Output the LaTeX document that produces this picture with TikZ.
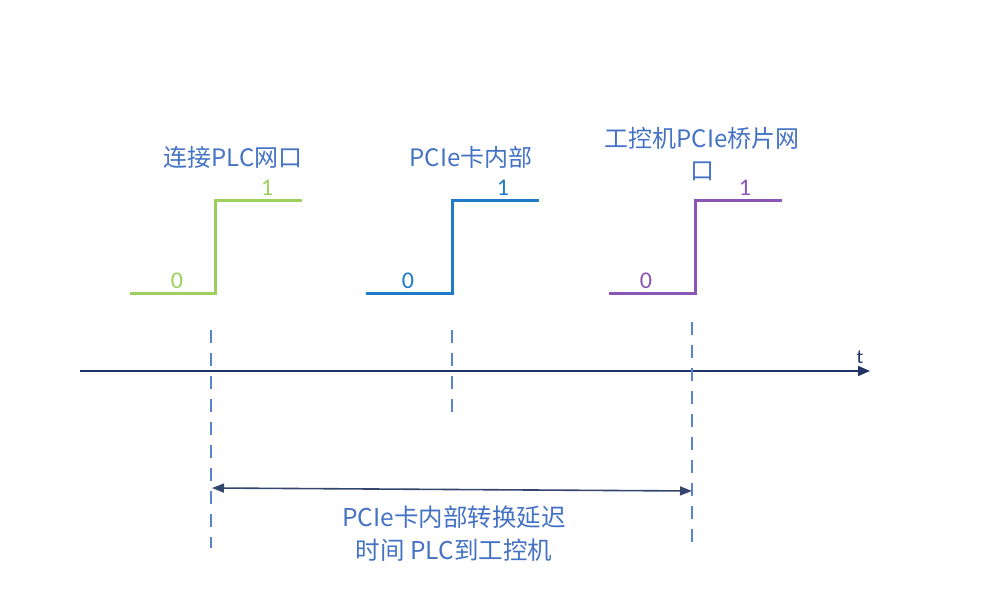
\documentclass[tikz,border=0pt]{standalone}
\usepackage{fontspec}
\setmainfont{Carlito}
\newfontfamily\cjk{Noto Sans CJK SC}
\usetikzlibrary{arrows.meta}
\definecolor{txtblue}{HTML}{4472C4}
\definecolor{sgreen}{HTML}{9BD05F}
\definecolor{sblue}{HTML}{1F7BC6}
\definecolor{spurple}{HTML}{8A55B5}
\definecolor{navy}{HTML}{1F3366}
\definecolor{dashblue}{HTML}{5B84CF}
\definecolor{arrnavy}{HTML}{34466F}
\tikzset{
  lbl/.style={text=txtblue, font=\cjk\fontsize{24}{32}\selectfont, inner sep=0pt, align=center},
  digit/.style={font=\fontsize{24}{26}\selectfont, inner sep=0pt},
  stepline/.style={line width=3pt, line join=miter},
  guide/.style={dashblue, line width=1.8pt, dash pattern=on 13pt off 10pt},
}
\begin{document}
\begin{tikzpicture}[x=1pt,y=-1pt]
\useasboundingbox (0,0) rectangle (984,596);
% green step
\coordinate (g0) at (130,293); \coordinate (g1) at (215,293);
\coordinate (g2) at (215,200); \coordinate (g3) at (302,200);
\draw[stepline, sgreen] (g0) -- (g1) -- (g2) -- (g3);
\node[digit, text=sgreen] (g0l) at (177,281) {0};
\node[digit, text=sgreen] (g1l) at (267,188) {1};
\node[lbl] (gl) at (233,157) {连接PLC网口};
% blue step
\coordinate (b0) at (366,293); \coordinate (b1) at (452,293);
\coordinate (b2) at (452,200); \coordinate (b3) at (539,200);
\draw[stepline, sblue] (b0) -- (b1) -- (b2) -- (b3);
\node[digit, text=sblue] (b0l) at (408,281) {0};
\node[digit, text=sblue] (b1l) at (503,188) {1};
\node[lbl] (bl) at (471,157) {PCIe卡内部};
% purple step
\coordinate (p0) at (609,293); \coordinate (p1) at (695,293);
\coordinate (p2) at (695,200); \coordinate (p3) at (782,200);
\draw[stepline, spurple] (p0) -- (p1) -- (p2) -- (p3);
\node[digit, text=spurple] (p0l) at (646,281) {0};
\node[digit, text=spurple] (p1l) at (745,188) {1};
\node[lbl] (pl) at (702,154) {工控机PCIe桥片网\\口};
% time axis
\coordinate (a0) at (80,371); \coordinate (a1) at (870,371);
\draw[navy, line width=1.8pt, -{Triangle[length=12pt,width=10pt]}] (a0) -- (a1);
\node[font=\fontsize{20}{22}\selectfont, text=navy, inner sep=0pt] (t) at (860,357) {t};
% dashed guides
\coordinate (d1a) at (211,330); \coordinate (d1b) at (211,548);
\coordinate (d2a) at (452,330); \coordinate (d2b) at (452,418);
\coordinate (d3a) at (692,322); \coordinate (d3b) at (692,552);
\draw[guide] (d1a) -- (d1b);
\draw[guide] (d2a) -- (d2b);
\draw[guide] (d3a) -- (d3b);
% double arrow
\coordinate (m0) at (212,488); \coordinate (m1) at (692,491);
\draw[arrnavy, line width=1.6pt, {Triangle[length=12pt,width=9pt]}-{Triangle[length=12pt,width=9pt]}] (m0) -- (m1);
\node[lbl, font=\cjk\fontsize{24.5}{33}\selectfont] (ml) at (454,534) {PCIe卡内部转换延迟\\时间 PLC到工控机};
\end{tikzpicture}
\end{document}
